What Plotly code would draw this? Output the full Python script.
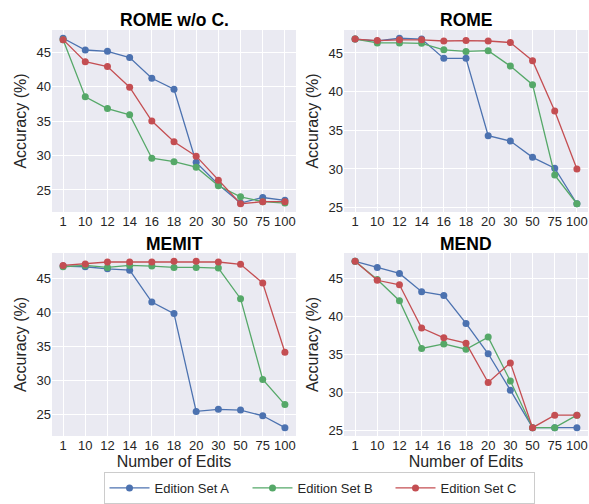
import numpy as np
import plotly.graph_objects as go

edits = ["1", "10", "12", "14", "16", "18", "20", "30", "50", "75", "100"]
series_names = ["Edition Set A", "Edition Set B", "Edition Set C"]
colors = ["#4C72B0", "#55A868", "#C44E52"]
panel_titles = ["ROME w/o C.", "ROME", "MEMIT", "MEND"]

rome_woc_a = [47.0, 45.3, 45.1, 44.2, 41.2, 39.6, 29.0, 25.8, 23.1, 23.9, 23.5]
rome_woc_b = [46.8, 38.5, 36.8, 35.9, 29.6, 29.1, 28.3, 25.6, 24.0, 23.3, 23.1]
rome_woc_c = [46.8, 43.6, 42.9, 39.9, 35.0, 32.0, 29.9, 26.4, 23.0, 23.3, 23.3]

rome_a = [46.8, 46.55, 46.9, 46.8, 44.3, 44.3, 34.3, 33.6, 31.5, 30.1, 25.5]
rome_b = [46.8, 46.3, 46.3, 46.25, 45.4, 45.2, 45.3, 43.3, 40.9, 29.2, 25.5]
rome_c = [46.8, 46.6, 46.7, 46.7, 46.55, 46.6, 46.55, 46.35, 44.0, 37.5, 30.0]

memit_a = [46.8, 46.7, 46.4, 46.2, 41.5, 39.8, 25.4, 25.7, 25.6, 24.75, 23.0]
memit_b = [46.7, 46.9, 46.6, 46.9, 46.8, 46.6, 46.6, 46.5, 42.0, 30.1, 26.4]
memit_c = [46.9, 47.1, 47.4, 47.4, 47.4, 47.5, 47.5, 47.4, 47.05, 44.3, 34.1]

mend_a = [47.3, 46.5, 45.7, 43.3, 42.8, 39.1, 35.1, 30.3, 25.35, 25.35, 25.35]
mend_b = [47.3, 44.9, 42.1, 35.8, 36.4, 35.7, 37.3, 31.5, 25.35, 25.35, 27.0]
mend_c = [47.3, 44.8, 44.2, 38.5, 37.2, 36.5, 31.3, 33.9, 25.35, 27.0, 27.0]

panels = [
    [rome_woc_a, rome_woc_b, rome_woc_c],
    [rome_a, rome_b, rome_c],
    [memit_a, memit_b, memit_c],
    [mend_a, mend_b, mend_c],
]

W, H = 589, 504
FONT = "Arial, Liberation Sans, sans-serif"

# pixel boxes (left, right, top, bottom)
boxes = [
    (52, 296, 30, 212),
    (344, 588, 30, 212),
    (52, 296, 253, 436),
    (344, 588, 253, 436),
]
title_centers = [20, 20, 244, 244]

fig = go.Figure()
for i, (data, box) in enumerate(zip(panels, boxes)):
    n = i + 1
    xa = "x" if n == 1 else f"x{n}"
    ya = "y" if n == 1 else f"y{n}"
    for j, vals in enumerate(data):
        fig.add_trace(go.Scatter(
            x=edits, y=vals, mode="lines+markers",
            name=series_names[j],
            line=dict(color=colors[j], width=1.3),
            marker=dict(color=colors[j], size=7),
            xaxis=xa, yaxis=ya, showlegend=(i == 0),
        ))
    l, r, t, b = box
    allv = np.concatenate([np.array(v) for v in data])
    lo, hi = allv.min(), allv.max()
    pad = (hi - lo) * 0.05
    xkey = "xaxis" if n == 1 else f"xaxis{n}"
    ykey = "yaxis" if n == 1 else f"yaxis{n}"
    fig.update_layout(**{
        xkey: dict(
            domain=[l / W, r / W], anchor=ya, type="category",
            categoryorder="array", categoryarray=edits,
            range=[-0.5, 10.5], showgrid=True, gridcolor="white", gridwidth=1,
            zeroline=False, showline=False, ticks="", automargin=False,
            tickfont=dict(family=FONT, size=13, color="#262626"),
            title=dict(text="Number of Edits" if i >= 2 else "",
                       font=dict(family=FONT, size=16, color="#262626"), standoff=3),
        ),
        ykey: dict(
            domain=[1 - b / H, 1 - t / H], anchor=xa,
            range=[lo - pad, hi + pad], dtick=5, tick0=0,
            showgrid=True, gridcolor="white", gridwidth=1,
            zeroline=False, showline=False, ticks="", automargin=False,
            tickfont=dict(family=FONT, size=13, color="#262626"),
            title=dict(text="Accuracy (%)",
                       font=dict(family=FONT, size=16, color="#262626"), standoff=5),
        ),
    })
    fig.add_annotation(
        text=f"<b>{panel_titles[i]}</b>", xref="paper", yref="paper",
        x=(l + r) / 2 / W, y=1 - title_centers[i] / H, xanchor="center", yanchor="middle",
        showarrow=False, font=dict(family=FONT, size=17.5, color="black"),
    )
    fig.add_shape(type="rect", xref="paper", yref="paper",
                  x0=l / W, x1=r / W, y0=1 - b / H, y1=1 - t / H,
                  fillcolor="#EAEAF2", line=dict(width=0), layer="below")

fig.update_layout(
    width=W, height=H,
    margin=dict(l=0, r=0, t=0, b=0),
    paper_bgcolor="white", plot_bgcolor="rgba(0,0,0,0)",
    font=dict(family=FONT, color="#262626"),
    legend=dict(
        orientation="h", x=319 / W, y=0, xanchor="center", yanchor="bottom",
        bordercolor="#CCCCCC", borderwidth=1, bgcolor="white",
        font=dict(family=FONT, size=13, color="#262626"),
        itemwidth=40, tracegroupgap=0, entrywidth=88, entrywidthmode="pixels",
    ),
)

fig.write_html("out.html", config={"displayModeBar": False},
               post_script="document.body.style.margin='0px';")
